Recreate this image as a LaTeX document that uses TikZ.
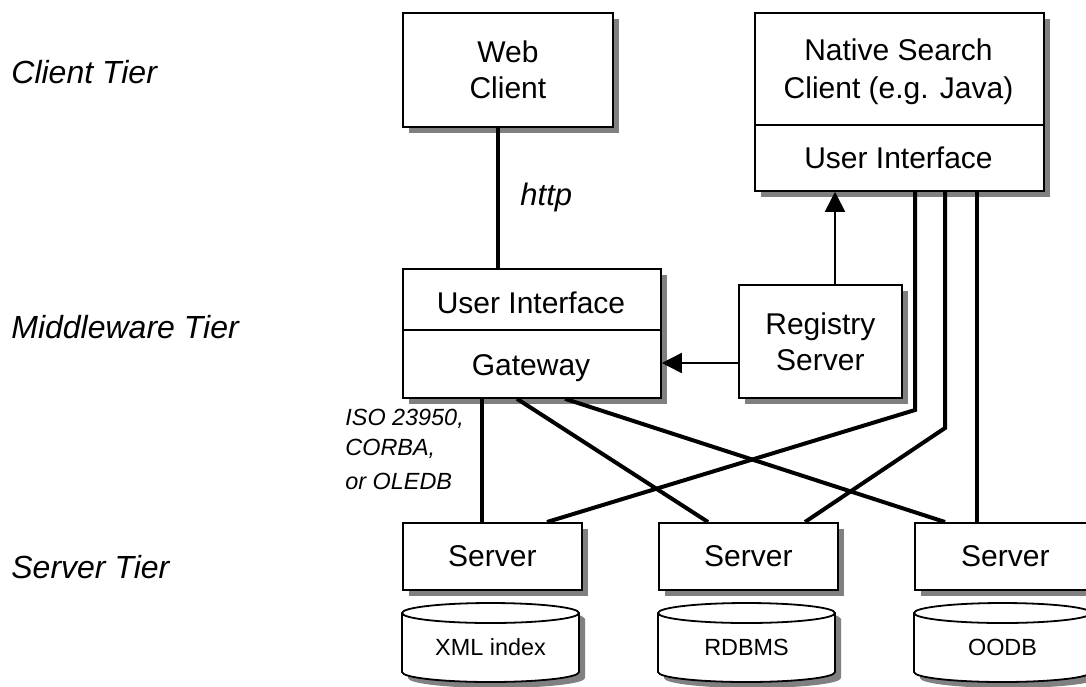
\documentclass[tikz,border=0pt]{standalone}
\usepackage{fontspec}
\setmainfont{Liberation Sans}
\usetikzlibrary{shadows,arrows.meta,calc}
\begin{document}
\begin{tikzpicture}[x=0.5pt,y=-0.5pt,
  shad/.style={drop shadow={shadow xshift=3pt, shadow yshift=-3pt, fill=gray, opacity=1}},
  box/.style={draw, line width=0.9pt, fill=white, anchor=north west, inner sep=0pt, align=center,
    font=\fontsize{15}{18}\selectfont, shad},
  lbl/.style={font=\fontsize{15}{18}\selectfont, anchor=base, inner sep=0pt},
  tier/.style={font=\fontsize{16}{19}\selectfont\itshape, anchor=base west, inner sep=0pt},
  small/.style={font=\fontsize{11.7}{14}\selectfont\itshape, anchor=base west, inner sep=0pt},
  wire/.style={line width=2pt},
  arr/.style={line width=0.9pt, -{Triangle[length=10pt,width=10pt]}},
  divider/.style={line width=0.9pt},
  pics/db/.style={code={
    \fill[gray, shift={(3pt,-3pt)}] (0,10) -- (0,69)
      arc[start angle=180, end angle=360, x radius=44.25pt, y radius=5pt] -- (177,10)
      arc[start angle=0, end angle=180, x radius=44.25pt, y radius=5pt] -- cycle;
    \filldraw[fill=white, line width=0.9pt] (0,10) -- (0,69)
      arc[start angle=180, end angle=360, x radius=44.25pt, y radius=5pt] -- (177,10)
      arc[start angle=0, end angle=180, x radius=44.25pt, y radius=5pt] -- cycle;
    \draw[line width=0.9pt] (0,10)
      arc[start angle=180, end angle=360, x radius=44.25pt, y radius=5pt];
    \node[font=\fontsize{11.7}{14}\selectfont, anchor=base, inner sep=0pt] (-t) at (88.5,52) {#1};
  }},
]
\useasboundingbox (0,0) rectangle (1086,686);
\clip (0,0) rectangle (1086,686);

% tier labels
\node[tier] (tc) at (11,83) {Client Tier};
\node[tier] (tm) at (11,338) {Middleware Tier};
\node[tier] (ts) at (11,578) {Server Tier};

% client tier
\node[box, minimum width=105pt, minimum height=57pt] (web) at (402,12) {Web\\Client};
\node[box, minimum width=144.5pt, minimum height=89pt] (native) at (754,12) {};
\draw[divider] (native.west |- 0,125) -- (native.east |- 0,125);
\node[lbl] (nat1) at (898.5,60) {Native Search};
\node[lbl] (nat2) at (898.5,98) {Client (e.g. Java)};
\node[lbl] (natui) at (898.5,168) {User Interface};

% middleware tier
\node[box, minimum width=129pt, minimum height=64.5pt] (mw) at (402,268) {};
\draw[divider] (mw.west |- 0,330) -- (mw.east |- 0,330);
\node[lbl] (mwui) at (531,313) {User Interface};
\node[lbl] (gw) at (531,375) {Gateway};
\node[box, minimum width=81.5pt, minimum height=56.5pt] (reg) at (738,284) {Registry\\Server};

% server tier
\node[box, minimum width=89.5pt, minimum height=33.5pt] (s1) at (402,522) {Server};
\node[box, minimum width=89.5pt, minimum height=33.5pt] (s2) at (658,522) {Server};
\node[box, minimum width=90.5pt, minimum height=33.5pt] (s3) at (914,522) {Server};

\pic (c1) at (402,603) {db={XML index}};
\pic (c2) at (658,603) {db={RDBMS}};
\pic (c3) at (914,603) {db={OODB}};

% labels
\node[font=\fontsize{15.5}{18}\selectfont\itshape, anchor=base west, inner sep=0pt] (http) at (520,205) {http};
\node[small] (iso1) at (345,425) {ISO 23950,};
\node[small] (iso2) at (345,455) {CORBA,};
\node[small] (iso3) at (345,489) {or OLEDB};

% connectors
\draw[wire] (web.south -| 498,0) -- (mw.north -| 498,0);
\draw[arr] (reg.north -| 835,0) -- (native.south -| 835,0);
\draw[arr] (reg.west |- 0,363) -- (mw.east |- 0,363);
\draw[wire] (mw.south -| 482,0) -- (s1.north -| 482,0);
\draw[wire] (mw.south -| 517,0) -- (s2.north -| 708,0);
\draw[wire] (mw.south -| 565,0) -- (s3.north -| 945,0);
\coordinate (b1) at (915,410);
\coordinate (b2) at (945,428);
\draw[wire, line join=miter] (native.south -| 915,0) -- (b1) -- (s1.north -| 547,0);
\draw[wire, line join=miter] (native.south -| 945,0) -- (b2) -- (s2.north -| 805,0);
\draw[wire] (native.south -| 977,0) -- (s3.north -| 977,0);
\end{tikzpicture}
\end{document}
